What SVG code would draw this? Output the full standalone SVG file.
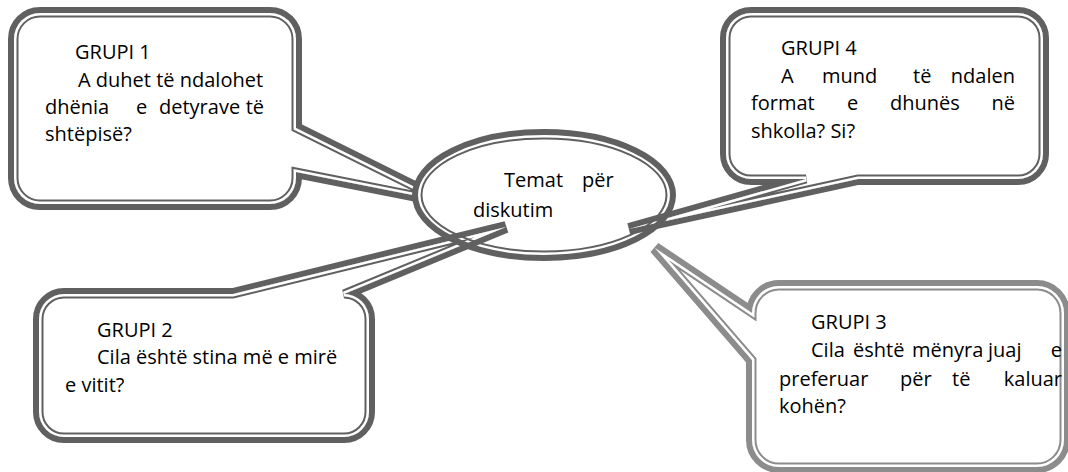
<svg xmlns="http://www.w3.org/2000/svg" xmlns:xlink="http://www.w3.org/1999/xlink" width="1068" height="472" viewBox="0 0 1068 472">
<style>
.t{font-family:"Open Sans","Noto Sans",sans-serif;font-size:20px;fill:#000}
.e{text-anchor:end}
.fw{fill:#fff;stroke:none}
.band{fill:none;stroke:#606060;stroke-width:12;stroke-linejoin:miter;stroke-miterlimit:4}
.inl{fill:none;stroke:#606060;stroke-width:9;stroke-linejoin:miter}
.gap{fill:none;stroke:#fff;stroke-width:5;stroke-linejoin:miter}
.l .band,.l .inl{stroke:#8c8c8c}
</style>
<defs>
<path id="p1" d="M40 13H270A26 26 0 0 1 296 39V128L443 201L296 172V178A26 26 0 0 1 270 204H40A26 26 0 0 1 14 178V39A26 26 0 0 1 40 13Z"/>
<path id="p2" d="M64 294H233L506 227L344 294A25 25 0 0 1 369 319V412A25 25 0 0 1 344 437H64A25 25 0 0 1 39 412V319A25 25 0 0 1 64 294Z"/>
<path id="p4" d="M751 13H1018A25 25 0 0 1 1043 38V154A25 25 0 0 1 1018 179H858L629 229L806 179H751A25 25 0 0 1 726 154V38A25 25 0 0 1 751 13Z"/>
<path id="p3" d="M779 286H1037A27 27 0 0 1 1064 313V440A27 27 0 0 1 1037 467H779A27 27 0 0 1 752 440V360L655 248L752 313A27 27 0 0 1 779 286Z"/>
<clipPath id="c1"><use xlink:href="#p1"/></clipPath>
<clipPath id="c2"><use xlink:href="#p2"/></clipPath>
<clipPath id="c3"><use xlink:href="#p3"/></clipPath>
<clipPath id="c4"><use xlink:href="#p4"/></clipPath>
</defs>
<rect width="1068" height="472" fill="#fff"/>
<g id="grupi1">
<use xlink:href="#p1" class="band"/>
<use xlink:href="#p1" class="fw"/>
<use xlink:href="#p1" class="inl" clip-path="url(#c1)"/>
<use xlink:href="#p1" class="gap" clip-path="url(#c1)"/>
</g>
<g id="tema-fill">
<ellipse cx="544" cy="195" rx="129" ry="63" fill="#fff"/>
</g>
<g id="grupi2">
<use xlink:href="#p2" class="band"/>
<use xlink:href="#p2" class="fw"/>
<use xlink:href="#p2" class="inl" clip-path="url(#c2)"/>
<use xlink:href="#p2" class="gap" clip-path="url(#c2)"/>
</g>
<g id="grupi4">
<use xlink:href="#p4" class="band"/>
<use xlink:href="#p4" class="fw"/>
<use xlink:href="#p4" class="inl" clip-path="url(#c4)"/>
<use xlink:href="#p4" class="gap" clip-path="url(#c4)"/>
</g>
<g id="grupi3" class="l">
<use xlink:href="#p3" class="band"/>
<use xlink:href="#p3" class="fw"/>
<use xlink:href="#p3" class="inl" clip-path="url(#c3)"/>
<use xlink:href="#p3" class="gap" clip-path="url(#c3)"/>
</g>
<g id="tema">
<ellipse cx="544" cy="195" rx="129" ry="63" fill="none" stroke="#606060" stroke-width="6"/>
<ellipse cx="544" cy="195" rx="122.5" ry="56.5" fill="none" stroke="#606060" stroke-width="2"/>
<text class="t"><tspan x="504" y="187">Temat</tspan><tspan x="582" y="187">për</tspan><tspan x="473" y="217">diskutim</tspan></text>
</g>
<g id="text-grupi1">
<text class="t" x="75" y="59">GRUPI 1</text>
<text class="t" x="78" y="87">A duhet të ndalohet</text>
<text class="t" y="114"><tspan x="45">dhënia</tspan><tspan x="136">e</tspan><tspan x="159">detyrave</tspan></text>
<text class="t e" x="264" y="114">të</text>
<text class="t" x="45" y="141">shtëpisë?</text>
</g>
<g id="text-grupi4">
<text class="t" x="781" y="55">GRUPI 4</text>
<text class="t" y="83"><tspan x="781">A</tspan><tspan x="822">mund</tspan><tspan x="913">të</tspan></text>
<text class="t e" x="1015" y="83">ndalen</text>
<text class="t" y="110"><tspan x="751">format</tspan><tspan x="847">e</tspan><tspan x="890">dhunës</tspan></text>
<text class="t e" x="1015" y="110">në</text>
<text class="t" x="751" y="138">shkolla? Si?</text>
</g>
<g id="text-grupi2">
<text class="t" x="97" y="337">GRUPI 2</text>
<text class="t" x="97" y="364">Cila është stina më e mirë</text>
<text class="t" x="65" y="392">e vitit?</text>
</g>
<g id="text-grupi3">
<text class="t" x="811" y="329">GRUPI 3</text>
<text class="t" y="357"><tspan x="811">Cila</tspan><tspan x="853">është</tspan><tspan x="912">mënyra</tspan><tspan x="988">juaj</tspan></text>
<text class="t e" x="1062" y="357">e</text>
<text class="t" y="386"><tspan x="779">preferuar</tspan><tspan x="900">për</tspan><tspan x="952">të</tspan></text>
<text class="t e" x="1062" y="386">kaluar</text>
<text class="t" x="779" y="413">kohën?</text>
</g>
</svg>
